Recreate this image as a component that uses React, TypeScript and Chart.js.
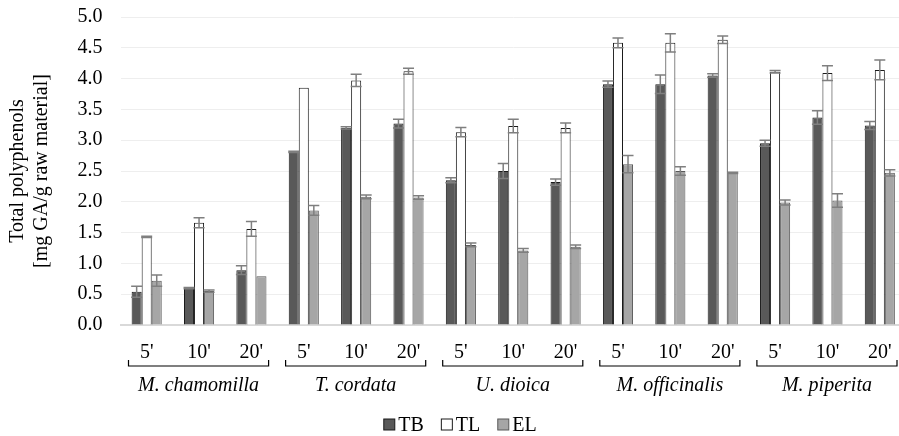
import React, { useEffect, useRef } from "react";
import { Chart, registerables } from "chart.js";

Chart.register(...registerables);

const plants = ["M. chamomilla", "T. cordata", "U. dioica", "M. officinalis", "M. piperita"];
const times = ["5'", "10'", "20'"];
const seriesNames = ["TB", "TL", "EL"];

const tbValues = [0.54, 0.6, 0.89, 2.81, 3.2, 3.27, 2.35, 2.5, 2.32, 3.91, 3.91, 4.05, 2.95, 3.37, 3.24];
const tbErrors = [0.09, 0.01, 0.07, 0.01, 0.02, 0.07, 0.04, 0.12, 0.05, 0.05, 0.15, 0.03, 0.05, 0.11, 0.065];
const tlValues = [1.43, 1.66, 1.56, 3.85, 3.97, 4.12, 3.13, 3.23, 3.2, 4.58, 4.58, 4.63, 4.11, 4.09, 4.14];
const tlErrors = [0.01, 0.08, 0.12, 0.0, 0.1, 0.05, 0.075, 0.11, 0.08, 0.08, 0.15, 0.06, 0.02, 0.12, 0.16];
const elValues = [0.72, 0.55, 0.79, 1.86, 2.08, 2.07, 1.3, 1.21, 1.27, 2.61, 2.5, 2.47, 1.99, 2.02, 2.47];
const elErrors = [0.09, 0.02, 0.0, 0.08, 0.03, 0.03, 0.03, 0.03, 0.03, 0.14, 0.07, 0.01, 0.04, 0.11, 0.05];

const yTickLabels = ["0.0", "0.5", "1.0", "1.5", "2.0", "2.5", "3.0", "3.5", "4.0", "4.5", "5.0"];
const yTitle = ["Total polyphenols", "[mg GA/g raw material]"];

const FONT = "'Liberation Serif', 'Times New Roman', serif";
const FS = 20;

const categoryLabels: string[] = [];
plants.forEach(() => times.forEach((t) => categoryLabels.push(t)));

const errorSets = [tbErrors, tlErrors, elErrors];

const errorBarPlugin = {
  id: "errorBars",
  afterDatasetsDraw(chart: any) {
    const ctx = chart.ctx;
    const y = chart.scales.y;
    chart.data.datasets.forEach((ds: any, di: number) => {
      const meta = chart.getDatasetMeta(di);
      const errs = errorSets[di];
      meta.data.forEach((bar: any, i: number) => {
        const v = ds.data[i];
        const e = errs[i];
        if (!e) return;
        const x = bar.x;
        const top = y.getPixelForValue(v + e);
        const bot = y.getPixelForValue(v - e);
        const cap = 5.5;
        ctx.save();
        ctx.strokeStyle = "#7f7f7f";
        ctx.lineWidth = 1.5;
        ctx.beginPath();
        ctx.moveTo(x, top);
        ctx.lineTo(x, bot);
        ctx.moveTo(x - cap, top);
        ctx.lineTo(x + cap, top);
        ctx.moveTo(x - cap, bot);
        ctx.lineTo(x + cap, bot);
        ctx.stroke();
        ctx.restore();
      });
    });
  },
};

const groupLabelPlugin = {
  id: "groupLabels",
  afterDraw(chart: any) {
    const ctx = chart.ctx;
    const xs = chart.scales.x;
    const area = chart.chartArea;
    const catW = xs.width / categoryLabels.length;
    const bracketY = area.bottom + 41;
    ctx.save();
    plants.forEach((p, g) => {
      const left = xs.getPixelForValue(g * 3) - catW / 2 + 8;
      const right = xs.getPixelForValue(g * 3 + 2) + catW / 2 - 9;
      ctx.strokeStyle = "#000";
      ctx.lineWidth = 1.2;
      ctx.beginPath();
      ctx.moveTo(left, bracketY - 6);
      ctx.lineTo(left, bracketY);
      ctx.lineTo(right, bracketY);
      ctx.lineTo(right, bracketY - 6);
      ctx.stroke();
      ctx.fillStyle = "#000";
      ctx.font = `italic ${FS}px ${FONT}`;
      ctx.textAlign = "center";
      ctx.textBaseline = "middle";
      ctx.fillText(p, (left + right) / 2, area.bottom + 61);
    });

    // legend
    const fills = ["#595959", "#ffffff", "#a6a6a6"];
    const strokes = ["#1a1a1a", "#1a1a1a", "#595959"];
    ctx.font = `${FS}px ${FONT}`;
    const box = 12;
    const gapText = 3;
    const gapItem = 17;
    const widths = seriesNames.map((s) => box + gapText + ctx.measureText(s).width);
    const total = widths.reduce((a, b) => a + b, 0) + gapItem * (seriesNames.length - 1);
    let lx = 460 - total / 2;
    const ly = 424.5;
    seriesNames.forEach((s, i) => {
      ctx.fillStyle = fills[i];
      ctx.fillRect(lx + 0.5, ly - box / 2 + 0.5, box - 1, box - 1);
      ctx.strokeStyle = strokes[i];
      ctx.lineWidth = 1;
      ctx.strokeRect(lx + 0.5, ly - box / 2 + 0.5, box - 1, box - 1);
      ctx.fillStyle = "#000";
      ctx.textAlign = "left";
      ctx.textBaseline = "middle";
      ctx.fillText(s, lx + box + gapText, ly + 1);
      lx += widths[i] + gapItem;
    });
    ctx.restore();
  },
};

export default function App() {
  const ref = useRef<HTMLCanvasElement | null>(null);

  useEffect(() => {
    if (!ref.current) return;
    const chart = new Chart(ref.current, {
      type: "bar",
      data: {
        labels: categoryLabels,
        datasets: [
          {
            label: seriesNames[0],
            data: tbValues,
            backgroundColor: "#595959",
            borderColor: "#1a1a1a",
            borderWidth: 1,
          },
          {
            label: seriesNames[1],
            data: tlValues,
            backgroundColor: "#ffffff",
            borderColor: "#1a1a1a",
            borderWidth: 1,
          },
          {
            label: seriesNames[2],
            data: elValues,
            backgroundColor: "#a6a6a6",
            borderColor: "#595959",
            borderWidth: 1,
          },
        ],
      },
      options: {
        responsive: false,
        animation: false,
        devicePixelRatio: 1,
        layout: { padding: { left: 0, right: 0, top: 0, bottom: 0 } },
        datasets: {
          bar: { categoryPercentage: 0.575, barPercentage: 1.0 },
        },
        plugins: {
          legend: { display: false },
          tooltip: { enabled: false },
        },
        scales: {
          x: {
            grid: { display: false },
            border: { display: true, color: "#d9d9d9", width: 2 },
            ticks: {
              font: { family: FONT, size: FS },
              color: "#000",
              padding: 8,
              maxRotation: 0,
              autoSkip: false,
            },
            afterFit: (scale: any) => {
              scale.height = 111;
            },
          },
          y: {
            min: 0,
            max: 5,
            border: { display: false },
            grid: { color: "#eeeeee", lineWidth: 1, drawTicks: false },
            ticks: {
              stepSize: 0.5,
              font: { family: FONT, size: FS },
              color: "#000",
              padding: 18,
              callback: (_v: any, i: number) => yTickLabels[i],
            },
            title: {
              display: true,
              text: yTitle,
              font: { family: FONT, size: FS },
              color: "#000",
              padding: { top: 6, bottom: 0 },
            },
            afterFit: (scale: any) => {
              scale.width = 120.5;
              scale.paddingTop = 17;
            },
          },
        },
      },
      plugins: [errorBarPlugin, groupLabelPlugin],
    });
    return () => chart.destroy();
  }, []);

  return (
    <div
      style={{
        position: "fixed",
        left: 0,
        top: 0,
        width: 899,
        height: 436,
        overflow: "hidden",
        background: "#ffffff",
      }}
    >
      <canvas ref={ref} width={906} height={436} style={{ width: 906, height: 436, display: "block" }} />
    </div>
  );
}
